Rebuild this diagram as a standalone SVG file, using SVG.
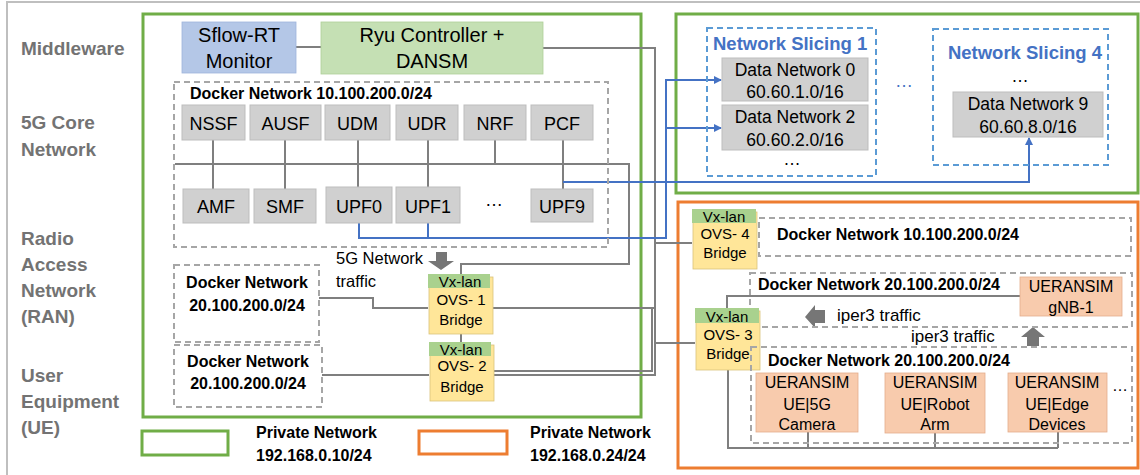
<svg xmlns="http://www.w3.org/2000/svg" width="1140" height="475" viewBox="0 0 1140 475">
<style>
text{font-family:"Liberation Sans",Arial,sans-serif;fill:#000}
.lbl{font-size:19px;font-weight:bold;fill:#737373}
.b16{font-size:16px;font-weight:bold}
.mid{text-anchor:middle}
.nf{fill:#d0d0d0;stroke:#bdbdbd;stroke-width:1}
.nft{font-size:18px;text-anchor:middle}
.dn{font-size:17.5px;text-anchor:middle}
.ovs{fill:#ffe699;stroke:#d9c27a;stroke-width:0.8}
.vx{fill:#a9d18e}
.ovt{font-size:15px;text-anchor:middle}
.ue{fill:#f8cbad;stroke:#e3ad8c;stroke-width:0.8}
.uet{font-size:16px;text-anchor:middle}
.dash{fill:none;stroke:#a6a6a6;stroke-width:2;stroke-dasharray:6 4}
.bdash{fill:none;stroke:#5b9bd5;stroke-width:2;stroke-dasharray:6 4}
.gl{fill:none;stroke:#7f7f7f;stroke-width:2}
.bl{fill:none;stroke:#4472c4;stroke-width:2}
.slc{font-size:18.5px;font-weight:bold;fill:#4472c4}
.blk{fill:#767676}
</style>
<defs>
<marker id="ah" markerWidth="8" markerHeight="8" refX="7" refY="4" orient="auto" markerUnits="userSpaceOnUse">
<path d="M0,0 L8,4 L0,8 Z" fill="#4472c4"/>
</marker>
</defs>

<rect x="7" y="2" width="1145" height="485" fill="none" stroke="#bfbfbf" stroke-width="2"/>

<g id="layer-labels">
<text class="lbl" x="21" y="55">Middleware</text>
<text class="lbl" x="21" y="129">5G Core</text>
<text class="lbl" x="21" y="156">Network</text>
<text class="lbl" x="21" y="245">Radio</text>
<text class="lbl" x="21" y="271">Access</text>
<text class="lbl" x="21" y="297">Network</text>
<text class="lbl" x="21" y="323">(RAN)</text>
<text class="lbl" x="21" y="382">User</text>
<text class="lbl" x="21" y="408">Equipment</text>
<text class="lbl" x="21" y="434">(UE)</text>
</g>

<g id="private-net-10">
<rect x="143" y="14" width="498" height="403" fill="none" stroke="#70ad47" stroke-width="3"/>
</g>
<g id="private-net-slices">
<rect x="676" y="14" width="462" height="179" fill="none" stroke="#70ad47" stroke-width="3"/>
</g>
<g id="private-net-24">
<rect x="678" y="202" width="460" height="266" fill="none" stroke="#ed7d31" stroke-width="3"/>
</g>

<g id="connectors">
<path class="gl" d="M296,47 H321"/>
<path class="gl" d="M543,48 H655 V375 H494"/>
<path class="gl" d="M655,243 H692"/>
<path class="gl" d="M493,308 H655"/>
<path class="gl" d="M655,343 H695"/>
<path class="gl" d="M494,371 H652 V308"/>
<path class="gl" d="M175,164 H629 V264 H461 V274"/>
<path class="gl" d="M213,140 V189 M285,140 V189 M358,140 V189 M428,140 V189 M495,140 V164 M563,140 V189"/>
<path class="gl" d="M319,298 H373 V308 H428"/>
<path class="gl" d="M461,334 V342"/>
<path class="gl" d="M322,375 H429"/>
<path class="gl" d="M727,308 V296 H1020"/>
<path class="gl" d="M728,370 V448 H1058 M808,432 V448 M935,433 V448 M1058,432 V448"/>
<path class="bl" d="M359,223 V238 H666 V80 H721" marker-end="url(#ah)"/>
<path class="bl" d="M666,128 H721" marker-end="url(#ah)"/>
<path class="bl" d="M428,223 V238"/>
<path class="bl" d="M563,182 H1029 V138" marker-end="url(#ah)"/>
<path class="blk" d="M436,252 H447 V261 H454 L441,270 L428,261 H436 Z"/>
<path class="blk" d="M805,317 L815,305 V310 H825 V323 H815 V328 Z"/>
<path class="blk" d="M1033,327 L1045,337 H1039 V346 H1027 V337 H1021 Z"/>
</g>

<g id="sflow">
<rect x="182" y="22" width="114" height="51" fill="#b4c7e7" stroke="#9fb5dc" stroke-width="0.8"/>
<text x="239" y="42" font-size="20" class="mid">Sflow-RT</text>
<text x="239" y="68" font-size="20" class="mid">Monitor</text>
</g>
<g id="ryu">
<rect x="321" y="22" width="222" height="52" fill="#c5e0b4" stroke="#aecf98" stroke-width="0.8"/>
<text x="432" y="42" font-size="20" class="mid">Ryu Controller +</text>
<text x="432" y="68" font-size="20" class="mid">DANSM</text>
</g>

<g id="core-docker">
<rect class="dash" x="174" y="82" width="434" height="165"/>
<text class="b16" x="190" y="99">Docker Network 10.100.200.0/24</text>
</g>
<g id="nssf"><rect class="nf" x="182" y="105" width="63" height="35"/><text class="nft" x="213.5" y="130">NSSF</text></g>
<g id="ausf"><rect class="nf" x="250" y="105" width="71" height="35"/><text class="nft" x="285.5" y="130">AUSF</text></g>
<g id="udm"><rect class="nf" x="325" y="105" width="65" height="35"/><text class="nft" x="357.5" y="130">UDM</text></g>
<g id="udr"><rect class="nf" x="396" y="105" width="62" height="35"/><text class="nft" x="427" y="130">UDR</text></g>
<g id="nrf"><rect class="nf" x="464" y="105" width="62" height="35"/><text class="nft" x="495" y="130">NRF</text></g>
<g id="pcf"><rect class="nf" x="531" y="105" width="62" height="35"/><text class="nft" x="562" y="130">PCF</text></g>
<g id="amf"><rect class="nf" x="183" y="189" width="66" height="34"/><text class="nft" x="216" y="213">AMF</text></g>
<g id="smf"><rect class="nf" x="254" y="189" width="62" height="34"/><text class="nft" x="285" y="213">SMF</text></g>
<g id="upf0"><rect class="nf" x="326" y="187" width="66" height="36"/><text class="nft" x="359" y="213">UPF0</text></g>
<g id="upf1"><rect class="nf" x="396" y="187" width="64" height="36"/><text class="nft" x="428" y="213">UPF1</text></g>
<text class="nft" x="494" y="206">…</text>
<g id="upf9"><rect class="nf" x="531" y="189" width="62" height="33"/><text class="nft" x="562" y="213">UPF9</text></g>

<text x="336" y="264" font-size="16.5">5G Network</text>
<text x="336" y="287" font-size="16.5">traffic</text>

<g id="ran-docker">
<rect class="dash" x="174" y="265" width="145" height="77"/>
<text class="b16 mid" x="247" y="288">Docker Network</text>
<text class="b16 mid" x="247" y="311">20.100.200.0/24</text>
</g>
<g id="ue-docker">
<rect class="dash" x="174" y="345" width="148" height="62"/>
<text class="b16 mid" x="248" y="367">Docker Network</text>
<text class="b16 mid" x="248" y="389">20.100.200.0/24</text>
</g>

<g id="ovs1">
<rect class="ovs" x="429" y="277" width="64" height="57"/>
<rect class="vx" x="428" y="274" width="62" height="14"/>
<text class="ovt" x="460" y="287">Vx-lan</text>
<text class="ovt" x="461" y="305">OVS- 1</text>
<text class="ovt" x="461" y="325">Bridge</text>
</g>
<g id="ovs2">
<rect class="ovs" x="430" y="345" width="64" height="56"/>
<rect class="vx" x="429" y="342" width="62" height="14"/>
<text class="ovt" x="461" y="355">Vx-lan</text>
<text class="ovt" x="462" y="371">OVS- 2</text>
<text class="ovt" x="462" y="392">Bridge</text>
</g>

<g id="legend">
<rect x="142" y="431" width="86" height="24" fill="none" stroke="#70ad47" stroke-width="3"/>
<text class="b16" x="256" y="438" font-size="15.5">Private Network</text>
<text class="b16" x="256" y="461">192.168.0.10/24</text>
<rect x="419" y="431" width="88" height="23" fill="none" stroke="#ed7d31" stroke-width="3"/>
<text class="b16" x="530" y="438" font-size="15.5">Private Network</text>
<text class="b16" x="530" y="461">192.168.0.24/24</text>
</g>

<g id="slice1">
<rect class="bdash" x="707" y="28" width="169" height="148"/>
<text class="slc" x="713" y="50">Network Slicing 1</text>
</g>
<g id="dn0"><rect class="nf" x="722" y="58" width="146" height="43"/><text class="dn" x="795" y="76">Data Network 0</text><text class="dn" x="795" y="98">60.60.1.0/16</text></g>
<g id="dn2"><rect class="nf" x="722" y="105" width="146" height="45"/><text class="dn" x="795" y="123">Data Network 2</text><text class="dn" x="795" y="146">60.60.2.0/16</text></g>
<text class="dn" x="792" y="165">…</text>
<text x="904" y="87" font-size="18" class="mid" style="fill:#4472c4">…</text>
<g id="slice4">
<rect class="bdash" x="933" y="29" width="175" height="136"/>
<text class="slc mid" x="1025" y="59">Network Slicing 4</text>
<text class="dn" x="1020" y="82">…</text>
</g>
<g id="dn9"><rect class="nf" x="953" y="92" width="150" height="45"/><text class="dn" x="1028" y="110">Data Network 9</text><text class="dn" x="1028" y="133">60.60.8.0/16</text></g>

<g id="ovs4">
<rect class="ovs" x="693" y="212" width="64" height="57"/>
<rect class="vx" x="692" y="209" width="64" height="14"/>
<text class="ovt" x="724" y="222">Vx-lan</text>
<text class="ovt" x="725" y="239">OVS- 4</text>
<text class="ovt" x="725" y="258">Bridge</text>
</g>
<g id="docker-10-right">
<rect class="dash" x="759" y="218" width="372" height="38"/>
<text class="b16" x="777" y="240">Docker Network 10.100.200.0/24</text>
</g>
<g id="gnb-docker">
<rect class="dash" x="750" y="273" width="382" height="54"/>
<text class="b16" x="758" y="290">Docker Network 20.100.200.0/24</text>
</g>
<g id="gnb">
<rect class="ue" x="1020" y="277" width="102" height="39"/>
<text class="uet" x="1071" y="292">UERANSIM</text>
<text class="uet" x="1071" y="313">gNB-1</text>
</g>
<text x="837" y="321" font-size="17">iper3 traffic</text>
<text x="911" y="342" font-size="17">iper3 traffic</text>

<g id="ovs3">
<rect class="ovs" x="696" y="311" width="64" height="59"/>
<rect class="vx" x="695" y="308" width="64" height="15"/>
<text class="ovt" x="727" y="322">Vx-lan</text>
<text class="ovt" x="728" y="340">OVS- 3</text>
<text class="ovt" x="728" y="359">Bridge</text>
</g>
<g id="ue-docker-right">
<rect class="dash" x="751" y="347" width="381" height="96"/>
<text class="b16" x="768" y="366">Docker Network 20.100.200.0/24</text>
</g>
<g id="ue-camera">
<rect class="ue" x="756" y="373" width="102" height="59"/>
<text class="uet" x="807" y="388">UERANSIM</text>
<text class="uet" x="807" y="410">UE|5G</text>
<text class="uet" x="807" y="430">Camera</text>
</g>
<g id="ue-robot">
<rect class="ue" x="885" y="373" width="100" height="60"/>
<text class="uet" x="935" y="388">UERANSIM</text>
<text class="uet" x="935" y="410">UE|Robot</text>
<text class="uet" x="935" y="430">Arm</text>
</g>
<g id="ue-edge">
<rect class="ue" x="1008" y="373" width="99" height="59"/>
<text class="uet" x="1057" y="388">UERANSIM</text>
<text class="uet" x="1057" y="410">UE|Edge</text>
<text class="uet" x="1057" y="430">Devices</text>
</g>
<text class="uet" x="1120" y="391">…</text>
</svg>
